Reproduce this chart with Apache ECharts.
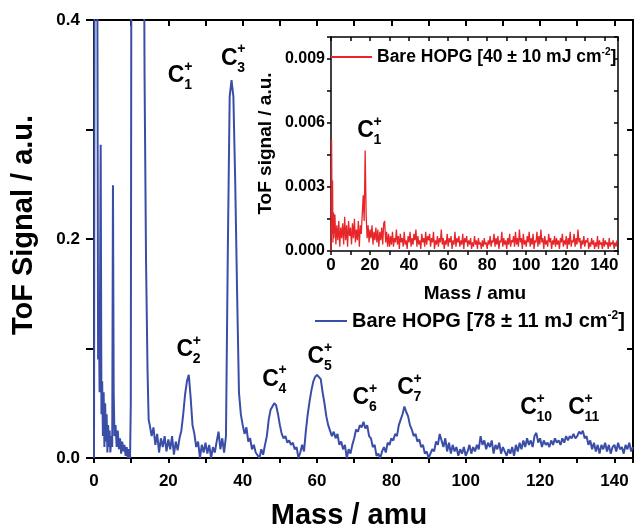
<!DOCTYPE html>
<html><head><meta charset="utf-8">
<script src="https://cdn.jsdelivr.net/npm/echarts@6/dist/echarts.min.js"></script>
<style>html,body{margin:0;padding:0;background:#fff}#c{width:636px;height:531px}</style>
</head><body><div id="c"></div>
<script>
// ---- data ----
const mainName = 'Bare HOPG [78 ± 11 mJ cm-2]';
const insetName = 'Bare HOPG [40 ± 10 mJ cm-2]';
const mainTicksX = [0, 20, 40, 60, 80, 100, 120, 140];
const mainTicksY = [0.0, 0.2, 0.4];
const insetTicksY = [0.000, 0.003, 0.006, 0.009];

// [mass (amu), ToF signal (a.u.)] main spectrum
const mainSpectrum = [
[0,0],[0.2,.6],[0.8,.6],[1.1,.09],[1.3,.14],[1.5,.06],[1.8,.286],[2.0,.04],[2.2,.07],[2.4,.02],[2.6,.06],[2.8,.01],[3.0,.05],[3.2,.015],[3.4,.04],[3.6,.005],[3.8,.03],[4.0,.01],[4.2,.025],[4.4,.005],[4.7,.02],[4.9,.01],[5.1,.249],[5.3,.06],[5.5,.02],[5.8,.03],[6.1,.01],[6.4,.025],[6.7,.008],[7.0,.018],[7.3,.004],[7.6,.015],[7.9,.006],[8.2,.012],[8.5,.002],[8.8,.01],[9.1,0],[9.4,.008],[9.7,0],[9.9,.05],[10.1,.6],[13.3,.6],[13.6,.35],[14.0,.18],[14.4,.08],[14.7,.035],[15.0,.03],
[15.5,.02],[16,.028],[16.5,.012],[17,.022],[17.5,.005],[18,.018],[18.5,.01],[19,.02],[19.5,.006],[20,.017],[20.5,.008],[21,.02],[21.5,.003],[22,.015],[22.5,.007],[23,.018],[23.5,.025],[24,.04],[24.5,.058],[25,.07],[25.5,.076],[26,.055],[26.5,.03],[27,.022],[27.5,.01],[28,.015],[28.5,0],[29,.012],[29.5,.005],[30,.014],
[30.5,.004],[31,.012],[31.5,0],[32,.01],[32.5,.005],[33,.015],[33.5,.024],[34,.008],[34.5,.018],[35,.005],[35.5,.02],[36,.19],[36.5,.33],[37,.345],[37.5,.33],[38,.25],[38.5,.15],[39,.06],[39.5,.04],[40,.03],[40.5,.022],[41,.028],[41.5,.015],[42,.018],[42.5,.008],[43,.012],[43.5,.005],[44,.006],[44.5,0],[45,.008],
[45.5,.003],[46,.012],[46.5,.02],[47,.035],[47.5,.044],[48,.047],[48.5,.05],[49,.048],[49.5,.04],[50,.03],[50.5,.022],[51,.018],[51.5,.02],[52,.014],[52.5,.016],[53,.012],[53.5,.014],[54,.008],[54.5,.01],[55,0],[55.5,.005],[56,.012],[56.5,.006],[57,.025],[57.5,.04],[58,.052],[58.5,.062],[59,.07],[59.5,.074],[60,.076],
[60.5,.075],[61,.072],[61.5,.06],[62,.05],[62.5,.038],[63,.03],[63.5,.025],[64,.02],[64.5,.024],[65,.018],[65.5,.022],[66,.012],[66.5,.015],[67,.008],[67.5,.012],[68,0],[68.5,.008],[69,.004],[69.5,.012],[70,.018],[70.5,.026],[71,.024],[71.5,.03],[72,.028],[72.5,.033],[73,.027],[73.5,.03],[74,.02],[74.5,.018],[75,.01],
[75.5,.012],[76,.002],[76.5,.004],[77,0],[77.5,.006],[78,.01],[78.5,.005],[79,.014],[79.5,.012],[80,.018],[80.5,.016],[81,.022],[81.5,.02],[82,.03],[82.5,.035],[83,.04],[83.5,.047],[84,.042],[84.5,.038],[85,.03],[85.5,.026],[86,.02],[86.5,.022],[87,.015],[87.5,.017],[88,.01],[88.5,.012],[89,.004],[89.5,.006],[90,0],
[90.5,.004],[91,.008],[91.5,.006],[92,.015],[92.5,.012],[93,.022],[93.5,.016],[94,.01],[94.5,.018],[95,.006],[95.5,.014],[96,.004],[96.5,.012],[97,.006],[97.5,.01],[98,.002],[98.5,.008],[99,.004],[99.5,.01],[100,.002],[100.5,.006],[101,.012],[101.5,.004],[102,.01],[102.5,.006],[103,.012],[103.5,.008],[104,.02],[104.5,.012],[105,.016],
[105.5,.008],[106,.014],[106.5,.01],[107,.016],[107.5,.004],[108,.012],[108.5,.008],[109,.014],[109.5,.004],[110,.01],[110.5,.006],[111,.002],[111.5,.008],[112,.004],[112.5,.01],[113,.002],[113.5,.012],[114,.006],[114.5,.014],[115,.008],[115.5,.016],[116,.01],[116.5,.018],[117,.012],[117.5,.016],[118,.01],[118.5,.02],[119,.023],[119.5,.014],[120,.018],
[120.5,.01],[121,.016],[121.5,.012],[122,.014],[122.5,.01],[123,.016],[123.5,.012],[124,.018],[124.5,.014],[125,.016],[125.5,.012],[126,.018],[126.5,.014],[127,.02],[127.5,.016],[128,.02],[128.5,.018],[129,.022],[129.5,.018],[130,.02],[130.5,.024],[131,.022],[131.5,.025],[132,.018],[132.5,.02],[133,.012],[133.5,.016],[134,.008],[134.5,.014],[135,.006],
[135.5,.012],[136,.004],[136.5,.012],[137,.008],[137.5,.014],[138,.006],[138.5,.012],[139,.004],[139.5,.01],[140,.012],[140.5,.006],[141,.014],[141.5,.008],[142,.01],[142.5,.004],[143,.012],[143.5,.008],[144,.014],[144.5,.006],[145,.01]
];

// [mass (amu), ToF signal (a.u.)] inset spectrum
const insetSpectrum = [
[0,0],[0.3,.0052],[0.6,.0008],[0.8,.0033],[1.0,.0004],[1.3,.0018],[1.5,.0006],[2,.0017],[2.5,.0003],[3,.0012],[3.5,.0005],[4,.0014],[4.5,.0002],[5,.0011],[5.5,.0006],[6,.0013],[6.5,.0003],[7,.0016],[7.5,.0005],[8,.0012],[8.5,.0002],[9,.0014],[9.5,.0007],[10,.0011],[10.5,.0003],[11,.0013],[11.5,.0006],[12,.0015],[12.5,.0004],[13,.0010],[13.5,.0005],[14,.0014],[14.5,.0002],[15,.0012],[15.5,.0008],[16,.0017],[16.5,.0026],[17,.0014],[17.5,.0047],[18,.0017],[18.5,.0006],[19,.0012],[19.5,.0004],[20,.0010],[20.5,.0006],[21,.0012],[21.5,.0003],[22,.0009],[22.5,.0005],[23,.0011],[23.5,.0004],[24,.0010],[24.5,.0002],[25,.0009],[25.5,.0005],[26,.0011],[26.5,.0003],[27,.0013],[27.5,.0014],[28,.0004],[28.5,.0009],[29,.0002],[29.5,.0008],
[30,.0002],[30.5,.0007],[31,.0003],[31.5,.0009],[32,.0002],[32.5,.0006],[33,.0004],[33.5,.0010],[34,.0003],[34.5,.0007],[35,.0001],[35.5,.0008],[36,.0004],[36.5,.0006],[37,.0002],[37.5,.0009],[38,.0003],[38.5,.0005],[39,.0001],[39.5,.0007],[40,.0004],[40.5,.0009],[41,.0002],[41.5,.0006],[42,.0003],[42.5,.0008],[43,.0005],[43.5,.0010],[44,.0002],[44.5,.0007],
[45,.0003],[45.5,.0005],[46,.0001],[46.5,.0008],[47,.0004],[47.5,.0006],[48,.0002],[48.5,.0009],[49,.0003],[49.5,.0007],[50,.0005],[50.5,.0008],[51,.0002],[51.5,.0006],[52,.0004],[52.5,.0009],[53,.0001],[53.5,.0005],[54,.0003],[54.5,.0007],[55,.0002],[55.5,.0006],[56,.0004],[56.5,.0010],[57,.0003],[57.5,.0006],[58,.0001],[58.5,.0005],[59,.0003],[59.5,.0008],
[60,.0002],[60.5,.0006],[61,.0004],[61.5,.0007],[62,.0001],[62.5,.0005],[63,.0003],[63.5,.0009],[64,.0002],[64.5,.0006],[65,.0004],[65.5,.0007],[66,.0002],[66.5,.0005],[67,.0003],[67.5,.0008],[68,.0001],[68.5,.0006],[69,.0004],[69.5,.0007],[70,.0002],[70.5,.0005],[71,.0003],[71.5,.0006],[72,.0001],[72.5,.0004],[73,.0002],[73.5,.0007],[74,.0003],[74.5,.0005],
[75,.0001],[75.5,.0006],[76,.0003],[76.5,.0004],[77,.0001],[77.5,.0005],[78,.0002],[78.5,.0006],[79,.0003],[79.5,.0004],[80,.0001],[80.5,.0005],[81,.0003],[81.5,.0007],[82,.0002],[82.5,.0005],[83,.0004],[83.5,.0008],[84,.0002],[84.5,.0006],[85,.0003],[85.5,.0007],[86,.0001],[86.5,.0005],[87,.0004],[87.5,.0009],[88,.0002],[88.5,.0006],[89,.0003],[89.5,.0005],
[90,.0001],[90.5,.0006],[91,.0003],[91.5,.0008],[92,.0002],[92.5,.0005],[93,.0004],[93.5,.0007],[94,.0002],[94.5,.0009],[95,.0003],[95.5,.0006],[96,.0002],[96.5,.0010],[97,.0004],[97.5,.0006],[98,.0001],[98.5,.0008],[99,.0003],[99.5,.0005],[100,.0002],[100.5,.0007],[101,.0004],[101.5,.0009],[102,.0002],[102.5,.0006],[103,.0003],[103.5,.0008],[104,.0001],[104.5,.0005],
[105,.0004],[105.5,.0009],[106,.0002],[106.5,.0007],[107,.0003],[107.5,.0010],[108,.0004],[108.5,.0006],[109,.0001],[109.5,.0007],[110,.0003],[110.5,.0005],[111,.0002],[111.5,.0008],[112,.0004],[112.5,.0006],[113,.0001],[113.5,.0005],[114,.0003],[114.5,.0007],[115,.0002],[115.5,.0006],[116,.0003],[116.5,.0005],[117,.0001],[117.5,.0006],[118,.0004],[118.5,.0008],[119,.0002],[119.5,.0005],
[120,.0003],[120.5,.0007],[121,.0001],[121.5,.0006],[122,.0003],[122.5,.0009],[123,.0002],[123.5,.0005],[124,.0004],[124.5,.0008],[125,.0002],[125.5,.0006],[126,.0003],[126.5,.0010],[127,.0004],[127.5,.0006],[128,.0001],[128.5,.0005],[129,.0003],[129.5,.0007],[130,.0002],[130.5,.0005],[131,.0004],[131.5,.0006],[132,.0001],[132.5,.0004],[133,.0002],[133.5,.0006],[134,.0003],[134.5,.0005],
[135,.0001],[135.5,.0004],[136,.0002],[136.5,.0007],[137,.0001],[137.5,.0005],[138,.0003],[138.5,.0004],[139,.0001],[139.5,.0006],[140,.0002],[140.5,.0005],[141,.0003],[141.5,.0004],[142,.0001],[142.5,.0006],[143,.0002],[143.5,.0004],[144,.0003],[144.5,.0005],[145,.0001],[145.5,.0004],[146,.0002],[146.5,.0005]
];

// peak annotations: [mass, signal, n] -> C_n^+
const mainPeakLabels = [[22.1,0.349,1],[24.4,0.099,2],[36.4,0.365,3],[47.5,0.072,4],[59.7,0.0925,5],[71.8,0.0553,6],[83.8,0.064,7],[116.9,0.046,10],[129.8,0.046,11]];
const insetPeakLabels = [[17.7,0.00563,1]];

// ---- chart ----
const FONT = '"Liberation Sans", Arial, Helvetica, sans-serif';
const BLUE = '#3a4ea8', RED = '#e8262a';
const chart = echarts.init(document.getElementById('c'), null, {renderer:'canvas'});

function near(v, list){ return list.some(t => Math.abs(v - t) < 1e-7); }

function axisBase(extra){
  return Object.assign({
    type:'value', splitLine:{show:false},
    axisLine:{show:true, onZero:false, lineStyle:{color:'#000', width:2}},
    axisTick:{show:true, inside:false, length:5, lineStyle:{color:'#000', width:2}},
    axisLabel:{show:false}
  }, extra);
}
const lblStyle = (size, margin, fmt) => ({show:true, margin, fontSize:size, fontWeight:'bold', fontFamily:FONT, color:'#000', formatter:fmt});

function peakRender(big, small, dx){
  return function(params, api){
    const p = api.coord([api.value(0), api.value(1)]);
    const n = String(api.value(2));
    const f = (s) => ({fontFamily:FONT, fontWeight:'bold', fontSize:s, fill:'#000'});
    return {type:'group', children:[
      {type:'text', x:p[0], y:p[1], style:Object.assign(f(big), {text:'C', align:'center', verticalAlign:'middle'})},
      {type:'text', x:p[0]+dx, y:p[1]-big*0.38, style:Object.assign(f(small), {text:'+', align:'left', verticalAlign:'middle'})},
      {type:'text', x:p[0]+dx, y:p[1]+big*0.42, style:Object.assign(f(small), {text:n, align:'left', verticalAlign:'middle'})}
    ]};
  };
}

function legendFmt(name){
  const i = name.lastIndexOf('-2');
  return '{t|' + name.slice(0,i) + '}{s|-2}{t|' + name.slice(i+2) + '}';
}

const option = {
  animation:false,
  grid:[
    {left:94, top:20, width:542, height:438},
    {left:331, top:37, width:287, height:214}
  ],
  xAxis:[
    axisBase({gridIndex:0, position:'bottom', min:0, max:145, interval:10,
      axisLabel:lblStyle(17, 15, v => near(v, mainTicksX) ? String(Math.round(v)) : '')}),
    axisBase({gridIndex:0, position:'top', min:0, max:145, interval:10,
      axisTick:{show:true, inside:true, length:6, lineStyle:{color:'#000', width:2}}}),
    axisBase({gridIndex:1, position:'bottom', min:0, max:147, interval:10,
      axisLine:{show:true, onZero:false, lineStyle:{color:'#000', width:1.5}},
      axisTick:{show:true, inside:false, length:4, lineStyle:{color:'#000', width:1.5}},
      axisLabel:lblStyle(17, 6, v => near(v, mainTicksX) ? String(Math.round(v)) : '')}),
    axisBase({gridIndex:1, position:'top', min:0, max:147, interval:10,
      axisLine:{show:true, onZero:false, lineStyle:{color:'#000', width:1.5}},
      axisTick:{show:true, inside:true, length:4, lineStyle:{color:'#000', width:1.5}}})
  ],
  yAxis:[
    axisBase({gridIndex:0, position:'left', min:0, max:0.4, interval:0.1,
      axisTick:{show:true, inside:false, length:8, lineStyle:{color:'#000', width:2}},
      axisLabel:lblStyle(17, 14, v => near(v, mainTicksY) ? v.toFixed(1) : '')}),
    axisBase({gridIndex:0, position:'right', min:0, max:0.4, interval:0.1,
      axisTick:{show:true, inside:true, length:6, lineStyle:{color:'#000', width:2}}}),
    axisBase({gridIndex:1, position:'left', min:0, max:0.01, interval:0.0015,
      axisLine:{show:true, onZero:false, lineStyle:{color:'#000', width:1.5}},
      axisTick:{show:true, inside:false, length:4, lineStyle:{color:'#000', width:1.5}},
      axisLabel:lblStyle(16, 6, v => near(v, insetTicksY) ? v.toFixed(3) : '')}),
    axisBase({gridIndex:1, position:'right', min:0, max:0.01, interval:0.0015,
      axisLine:{show:true, onZero:false, lineStyle:{color:'#000', width:1.5}},
      axisTick:{show:true, inside:true, length:4, lineStyle:{color:'#000', width:1.5}}})
  ],
  legend:[
    {data:[mainName], left:315, top:310, padding:0, itemWidth:32, itemHeight:2, icon:'rect',
     formatter:legendFmt, selectedMode:false,
     textStyle:{color:'#000', rich:{
       t:{fontSize:20, fontWeight:'bold', fontFamily:FONT, color:'#000', lineHeight:22},
       s:{fontSize:12, fontWeight:'bold', fontFamily:FONT, color:'#000', verticalAlign:'top', lineHeight:12}}}},
    {data:[insetName], left:331, top:47, padding:0, itemWidth:41, itemHeight:2, icon:'rect',
     formatter:legendFmt, selectedMode:false,
     textStyle:{color:'#000', rich:{
       t:{fontSize:17.5, fontWeight:'bold', fontFamily:FONT, color:'#000', lineHeight:20},
       s:{fontSize:10, fontWeight:'bold', fontFamily:FONT, color:'#000', verticalAlign:'top', lineHeight:11}}}}
  ],
  graphic:[
    {type:'text', x:349, y:516, style:{text:'Mass / amu', fontFamily:FONT, fontWeight:'bold', fontSize:29, fill:'#000', align:'center', verticalAlign:'middle'}},
    {type:'text', x:24, y:225, rotation:Math.PI/2, style:{text:'ToF Signal / a.u.', fontFamily:FONT, fontWeight:'bold', fontSize:29, fill:'#000', align:'center', verticalAlign:'middle'}},
    {type:'text', x:475, y:294, style:{text:'Mass / amu', fontFamily:FONT, fontWeight:'bold', fontSize:19, fill:'#000', align:'center', verticalAlign:'middle'}},
    {type:'text', x:265.5, y:143.5, rotation:Math.PI/2, style:{text:'ToF signal / a.u.', fontFamily:FONT, fontWeight:'bold', fontSize:19, fill:'#000', align:'center', verticalAlign:'middle'}}
  ],
  series:[
    {name:mainName, type:'line', xAxisIndex:0, yAxisIndex:0, data:mainSpectrum, showSymbol:false, symbol:'none',
     clip:true, lineStyle:{color:BLUE, width:2}, itemStyle:{color:BLUE}},
    {name:insetName, type:'line', xAxisIndex:2, yAxisIndex:2, data:insetSpectrum, showSymbol:false, symbol:'none',
     clip:true, lineStyle:{color:RED, width:1.3}, itemStyle:{color:RED}},
    {type:'custom', xAxisIndex:0, yAxisIndex:0, data:mainPeakLabels, silent:true, clip:false,
     renderItem:peakRender(23, 14, 8)},
    {type:'custom', xAxisIndex:2, yAxisIndex:2, data:insetPeakLabels, silent:true, clip:false,
     renderItem:peakRender(23, 14, 8)}
  ]
};
chart.setOption(option);
</script></body></html>
